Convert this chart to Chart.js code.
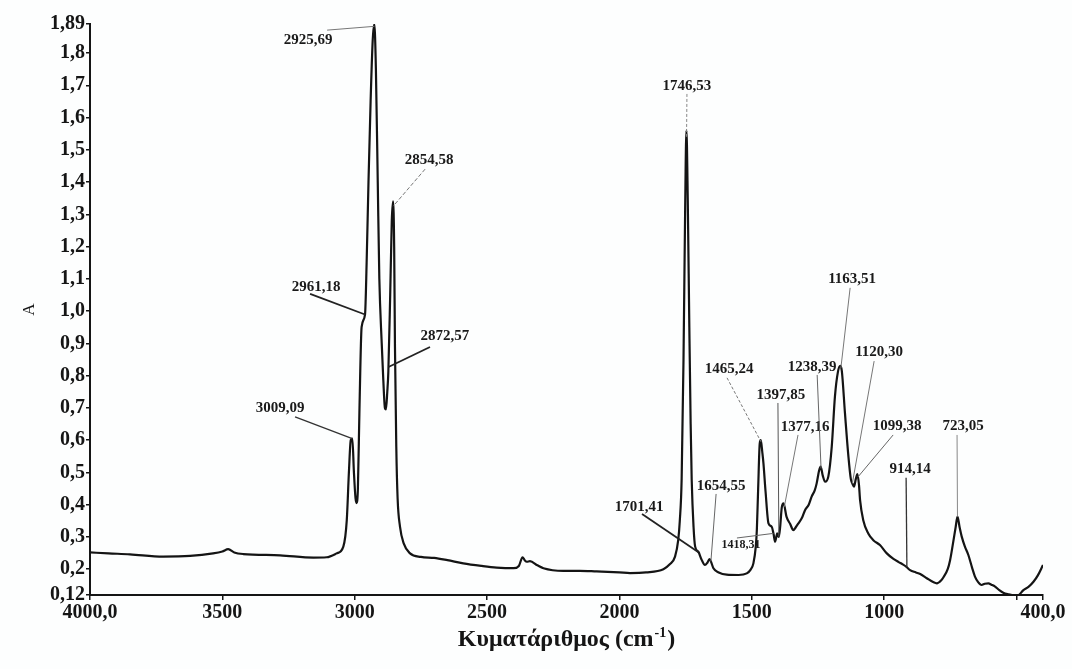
<!DOCTYPE html>
<html>
<head>
<meta charset="utf-8">
<script src="https://cdn.jsdelivr.net/npm/chart.js@4/dist/chart.umd.min.js"></script>
<style>
  html, body { margin: 0; padding: 0; background: #fdfefe; }
  #wrap { width: 1072px; height: 669px; }
</style>
</head>
<body>
<div id="wrap"><canvas id="spectrum" width="1072" height="669"></canvas></div>
<script>
// FT-IR absorbance spectrum (wavenumber in cm-1, absorbance A)
const wavenumbers = [
  4000, 3930, 3849, 3724, 3622, 3535, 3500, 3478, 3455, 3421, 3282, 3156, 3106, 3068, 3043,
  3030, 3022, 3015, 3009, 3003, 2997, 2993, 2988, 2982, 2974, 2961, 2955, 2948, 2940, 2932,
  2926, 2920, 2913, 2907, 2898, 2892, 2886, 2882, 2877, 2873, 2866, 2860, 2855, 2851, 2848,
  2843, 2838, 2829, 2815, 2791, 2750, 2700, 2650, 2590, 2520, 2464, 2400, 2380, 2366, 2358,
  2350, 2338, 2310, 2287, 2212, 2150, 2086, 2000, 1960, 1900, 1834, 1810, 1790, 1778, 1772,
  1765, 1758, 1752, 1747, 1742, 1736, 1731, 1727, 1720, 1714, 1702, 1690, 1677, 1668, 1660,
  1655, 1645, 1625, 1595, 1550, 1519, 1505, 1494, 1485, 1481, 1476, 1470, 1466, 1460, 1456,
  1448, 1437, 1425, 1418, 1412, 1404, 1398, 1393, 1387, 1380, 1369, 1355, 1343, 1334, 1324,
  1310, 1299, 1285, 1274, 1262, 1255, 1246, 1240, 1232, 1223, 1211, 1198, 1186, 1175, 1166,
  1160, 1148, 1135, 1126, 1120, 1114, 1107, 1101, 1095, 1091, 1079, 1060, 1041, 1016, 990,
  965, 945, 930, 917, 902, 880, 864, 839, 815, 801, 785, 776, 760, 751, 740,
  730, 723, 715, 707, 695, 682, 668, 657, 645, 632, 620, 606, 595, 581, 565,
  550, 530, 518, 505, 495, 474, 455, 436, 420, 400
];
const absorbance = [
  0.252, 0.249, 0.246, 0.239, 0.241, 0.249, 0.255, 0.262, 0.252, 0.247, 0.243, 0.236, 0.237, 0.249, 0.270,
  0.352, 0.500, 0.600, 0.605, 0.500, 0.420, 0.405, 0.450, 0.700, 0.950, 0.990, 1.150, 1.400, 1.650, 1.840,
  1.890, 1.750, 1.400, 1.100, 0.900, 0.786, 0.700, 0.695, 0.750, 0.812, 1.050, 1.280, 1.340, 1.200, 0.890,
  0.580, 0.420, 0.332, 0.280, 0.249, 0.238, 0.235, 0.228, 0.218, 0.210, 0.205, 0.203, 0.210, 0.237, 0.228,
  0.223, 0.225, 0.212, 0.203, 0.195, 0.195, 0.193, 0.190, 0.188, 0.190, 0.200, 0.215, 0.239, 0.290, 0.350,
  0.480, 0.850, 1.300, 1.560, 1.350, 0.950, 0.650, 0.476, 0.330, 0.270, 0.254, 0.230, 0.213, 0.220, 0.231,
  0.225, 0.203, 0.190, 0.183, 0.182, 0.187, 0.198, 0.218, 0.270, 0.321, 0.450, 0.590, 0.600, 0.560, 0.528,
  0.440, 0.342, 0.332, 0.310, 0.285, 0.311, 0.300, 0.330, 0.390, 0.404, 0.363, 0.340, 0.321, 0.330, 0.342,
  0.360, 0.383, 0.400, 0.425, 0.445, 0.466, 0.505, 0.518, 0.490, 0.471, 0.487, 0.580, 0.735, 0.810, 0.830,
  0.815, 0.683, 0.549, 0.480, 0.465, 0.456, 0.480, 0.495, 0.460, 0.414, 0.352, 0.311, 0.290, 0.275, 0.249,
  0.232, 0.222, 0.215, 0.208, 0.197, 0.190, 0.185, 0.172, 0.160, 0.156, 0.165, 0.175, 0.200, 0.228, 0.280,
  0.330, 0.363, 0.330, 0.301, 0.270, 0.244, 0.205, 0.177, 0.160, 0.151, 0.155, 0.156, 0.152, 0.146, 0.135,
  0.127, 0.122, 0.120, 0.115, 0.117, 0.135, 0.145, 0.161, 0.180, 0.213
];

// Peak positions printed next to the curve
const peakLabels = [
  '3009,09', '2961,18', '2925,69', '2872,57', '2854,58', '1746,53', '1701,41', '1654,55', '1465,24',
  '1418,31', '1397,85', '1377,16', '1238,39', '1163,51', '1120,30', '1099,38', '914,14', '723,05'
];

const xTickValues = [4000, 3500, 3000, 2500, 2000, 1500, 1000, 500, 400];
const xTickLabels = ['4000,0', '3500', '3000', '2500', '2000', '1500', '1000', '', '400,0'];
const yTickValues = [0.12, 0.2, 0.3, 0.4, 0.5, 0.6, 0.7, 0.8, 0.9, 1.0, 1.1, 1.2, 1.3, 1.4, 1.5, 1.6, 1.7, 1.8, 1.89];
const yTickLabels = ['0,12', '0,2', '0,3', '0,4', '0,5', '0,6', '0,7', '0,8', '0,9', '1,0', '1,1', '1,2', '1,3', '1,4', '1,5', '1,6', '1,7', '1,8', '1,89'];

const xTitle = 'Κυματάριθμος (cm';
const xTitleSup = '-1';
const yTitle = 'A';

// Label placement: text centre in data units, leader start as pixel offset from the text centre
const labelLayout = {
  '3009,09': { at: [3282, 0.700], from: [15, 9], w: 1.3, c: '#333' },
  '2961,18': { at: [3146, 1.075], from: [-6, 7], w: 1.8, c: '#222' },
  '2925,69': { at: [3176, 1.840], from: [19, -10], w: 1, c: '#777' },
  '2872,57': { at: [2659, 0.923], from: [-15, 11], w: 1.8, c: '#222' },
  '2854,58': { at: [2719, 1.468], from: [-4, 9], w: 1, c: '#777', dash: [4, 2] },
  '1746,53': { at: [1745, 1.698], from: [0, 8], w: 1, c: '#888', dash: [3, 2] },
  '1701,41': { at: [1926, 0.393], from: [3, 7], w: 1.8, c: '#222' },
  '1654,55': { at: [1616, 0.458], from: [-5, 8], w: 1, c: '#666' },
  '1465,24': { at: [1586, 0.821], from: [-2, 9], w: 1, c: '#777', dash: [3, 2] },
  '1418,31': { at: [1541, 0.275], from: [-4, -7], w: 1, c: '#666', small: true },
  '1397,85': { at: [1390, 0.740], from: [-3, 8], w: 1, c: '#555' },
  '1377,16': { at: [1299, 0.641], from: [-7, 8], w: 1, c: '#777' },
  '1238,39': { at: [1272, 0.827], from: [5, 8], w: 1, c: '#666' },
  '1163,51': { at: [1121, 1.100], from: [-2, 9], w: 1, c: '#777' },
  '1120,30': { at: [1019, 0.873], from: [-5, 9], w: 1, c: '#777' },
  '1099,38': { at: [951, 0.644], from: [-4, 9], w: 1, c: '#666' },
  '914,14':  { at: [902, 0.511], from: [-4, 9], w: 1.3, c: '#333' },
  '723,05':  { at: [702, 0.644], from: [-6, 9], w: 1, c: '#888' }
};

function absorbanceAt(wn) {
  for (let i = 0; i < wavenumbers.length - 1; i++) {
    const a = wavenumbers[i], b = wavenumbers[i + 1];
    if (wn <= a && wn >= b) {
      const t = (a - wn) / (a - b);
      return absorbance[i] + t * (absorbance[i + 1] - absorbance[i]);
    }
  }
  return absorbance[absorbance.length - 1];
}

const serif = '"Liberation Serif", "Times New Roman", serif';

const paperBackground = {
  id: 'paperBackground',
  beforeDraw(chart) {
    const ctx = chart.ctx;
    ctx.save();
    ctx.fillStyle = '#fdfefe';
    ctx.fillRect(0, 0, chart.width, chart.height);
    ctx.restore();
  }
};

const peakAnnotations = {
  id: 'peakAnnotations',
  afterDatasetsDraw(chart) {
    const ctx = chart.ctx;
    const xs = chart.scales.x, ys = chart.scales.y;
    ctx.save();
    peakLabels.forEach(label => {
      const lay = labelLayout[label];
      const wn = parseFloat(label.replace(',', '.'));
      const px = xs.getPixelForValue(wn);
      const py = ys.getPixelForValue(absorbanceAt(wn));
      const tx = xs.getPixelForValue(lay.at[0]);
      const ty = ys.getPixelForValue(lay.at[1]);
      ctx.beginPath();
      ctx.setLineDash(lay.dash || []);
      ctx.lineWidth = lay.w;
      ctx.strokeStyle = lay.c;
      ctx.moveTo(tx + lay.from[0], ty + lay.from[1]);
      ctx.lineTo(px, py);
      ctx.stroke();
      ctx.setLineDash([]);
      ctx.fillStyle = '#1a1a1a';
      ctx.font = (lay.small ? 'bold 12px ' : 'bold 15px ') + serif;
      ctx.textAlign = 'center';
      ctx.textBaseline = 'middle';
      ctx.fillText(label, tx, ty);
    });
    ctx.restore();
  }
};

const axisTitles = {
  id: 'axisTitles',
  afterDraw(chart) {
    const ctx = chart.ctx;
    const area = chart.chartArea;
    ctx.save();
    ctx.fillStyle = '#151515';
    // x title with superscript
    ctx.font = 'bold 24px ' + serif;
    const mainW = ctx.measureText(xTitle).width;
    ctx.font = 'bold 14px ' + serif;
    const supW = ctx.measureText(xTitleSup).width;
    ctx.font = 'bold 24px ' + serif;
    const closeW = ctx.measureText(')').width;
    const total = mainW + supW + closeW + 2;
    let x = (area.left + area.right) / 2 - total / 2;
    const y = 640;
    ctx.textBaseline = 'middle';
    ctx.textAlign = 'left';
    ctx.fillText(xTitle, x, y);
    x += mainW + 1;
    ctx.font = 'bold 14px ' + serif;
    ctx.fillText(xTitleSup, x, y - 7);
    x += supW + 1;
    ctx.font = 'bold 24px ' + serif;
    ctx.fillText(')', x, y);
    // y title, rotated
    ctx.translate(30, (area.top + area.bottom) / 2);
    ctx.rotate(-Math.PI / 2);
    ctx.textAlign = 'center';
    ctx.font = '17px ' + serif;
    ctx.fillText(yTitle, 0, 0);
    ctx.restore();
  }
};

new Chart(document.getElementById('spectrum'), {
  type: 'line',
  data: {
    datasets: [{
      data: wavenumbers.map((w, i) => ({ x: w, y: absorbance[i] })),
      borderColor: '#141414',
      borderWidth: 2.2,
      pointRadius: 0,
      fill: false,
      cubicInterpolationMode: 'monotone'
    }]
  },
  options: {
    responsive: false,
    animation: false,
    devicePixelRatio: 1,
    layout: { padding: { top: 24, right: 29, left: 0, bottom: 0 } },
    plugins: { legend: { display: false }, tooltip: { enabled: false } },
    scales: {
      x: {
        type: 'linear',
        reverse: true,
        min: 400,
        max: 4000,
        afterFit(scale) { scale.height = 74; },
        afterBuildTicks(scale) { scale.ticks = xTickValues.map(v => ({ value: v })); },
        ticks: {
          autoSkip: false,
          maxRotation: 0,
          padding: 1,
          color: '#151515',
          font: { family: serif, size: 20, weight: 'bold' },
          callback: (v, i) => xTickLabels[i]
        },
        grid: { drawOnChartArea: false, tickLength: 5, color: '#151515', lineWidth: 1.5 },
        border: { color: '#151515', width: 2 }
      },
      y: {
        type: 'linear',
        min: 0.12,
        max: 1.89,
        afterFit(scale) { scale.width = 90; },
        afterBuildTicks(scale) { scale.ticks = yTickValues.map(v => ({ value: v })); },
        ticks: {
          autoSkip: false,
          padding: 1,
          color: '#151515',
          font: { family: serif, size: 20, weight: 'bold' },
          callback: (v, i) => yTickLabels[i]
        },
        grid: { drawOnChartArea: false, tickLength: 4, color: '#151515', lineWidth: 1.5 },
        border: { color: '#151515', width: 2 }
      }
    }
  },
  plugins: [paperBackground, peakAnnotations, axisTitles]
});
</script>
</body>
</html>
